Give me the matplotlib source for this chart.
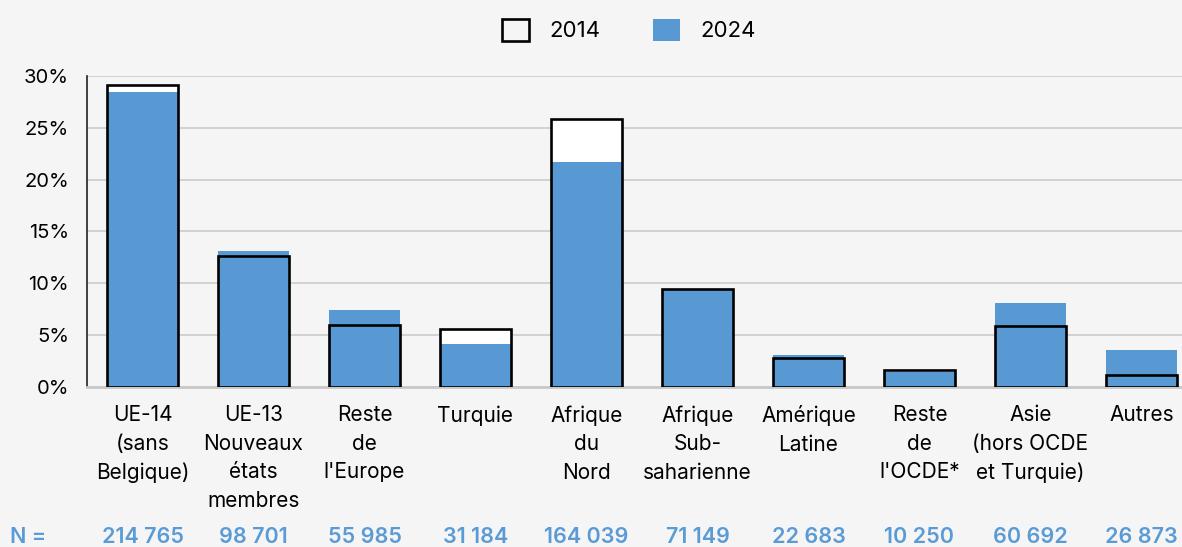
import matplotlib
matplotlib.use("Agg")
import matplotlib.pyplot as plt
from matplotlib.patches import Patch
from matplotlib.transforms import blended_transform_factory

plt.rcParams['font.family'] = ['Inter', 'DejaVu Sans']

categories = ["UE-14\n(sans\nBelgique)", "UE-13\nNouveaux\nétats\nmembres", "Reste\nde\nl'Europe",
              "Turquie", "Afrique\ndu\nNord", "Afrique\nSub-\nsaharienne", "Amérique\nLatine",
              "Reste\nde\nl'OCDE*", "Asie\n(hors OCDE\net Turquie)", "Autres"]
values_2014 = [29.1, 12.6, 5.95, 5.6, 25.9, 9.5, 2.75, 1.67, 5.9, 1.16]
values_2024 = [28.5, 13.1, 7.4, 4.1, 21.7, 9.45, 3.06, 1.45, 8.07, 3.54]
n_labels = ["214 765", "98 701", "55 985", "31 184", "164 039", "71 149", "22 683", "10 250", "60 692", "26 873"]
yticks = [0, 5, 10, 15, 20, 25, 30]

W, H = 1182, 547
bg = '#f5f5f5'
blue = '#5899d4'
nblue = '#5b9bd5'

fig = plt.figure(figsize=(W/100, H/100), dpi=100, facecolor=bg)
ax = fig.add_axes([87/W, (H-387)/H, 1110/W, (387-76)/H], facecolor=bg)

x = list(range(len(categories)))
bw = 0.64
ax.bar(x, values_2014, width=bw, color='white', zorder=2)
ax.bar(x, values_2024, width=bw, color=blue, zorder=3)
ax.bar(x, values_2014, width=bw, facecolor='none', edgecolor='black', linewidth=1.9, zorder=4)

ax.set_xlim(-0.5, len(categories) - 0.5)
ax.set_ylim(0, 30)
ax.set_yticks(yticks)
ax.set_yticklabels([f"{v}%" for v in yticks], fontsize=14.5)
ax.yaxis.grid(True, color='#d2d2d2', linewidth=1.4, zorder=0)
ax.set_axisbelow(True)
ax.tick_params(axis='y', length=0, pad=13)
ax.set_xticks(x)
ax.set_xticklabels(categories, fontsize=15, linespacing=1.54)
ax.tick_params(axis='x', length=0, pad=13)
for lab in ax.get_xticklabels():
    lab.set_horizontalalignment('center')

for s in ['top', 'right']:
    ax.spines[s].set_visible(False)
ax.spines['left'].set_color('#222222')
ax.spines['left'].set_linewidth(1.2)
ax.spines['bottom'].set_color('#c8c8c8')
ax.spines['bottom'].set_linewidth(2)

trans = blended_transform_factory(ax.transData, fig.transFigure)
for xi, nl in zip(x, n_labels):
    fig.text(xi, (H-537)/H, nl, transform=trans, ha='center', va='center',
             fontsize=15.5, color=nblue, fontweight='semibold')
fig.text(10/W, (H-537)/H, "N =", ha='left', va='center', fontsize=15.5, color=nblue, fontweight='semibold')

handles = [Patch(facecolor='none', edgecolor='black', linewidth=1.9, label='2014'),
           Patch(facecolor=blue, edgecolor='none', label='2024')]
fig.legend(handles=handles, loc='center', bbox_to_anchor=(629/W, (H-30)/H), ncol=2,
           frameon=False, fontsize=16, handlelength=1.2, handleheight=1.2,
           handletextpad=0.9, columnspacing=2.4)

fig.savefig("out.png", dpi=100, facecolor=bg)
